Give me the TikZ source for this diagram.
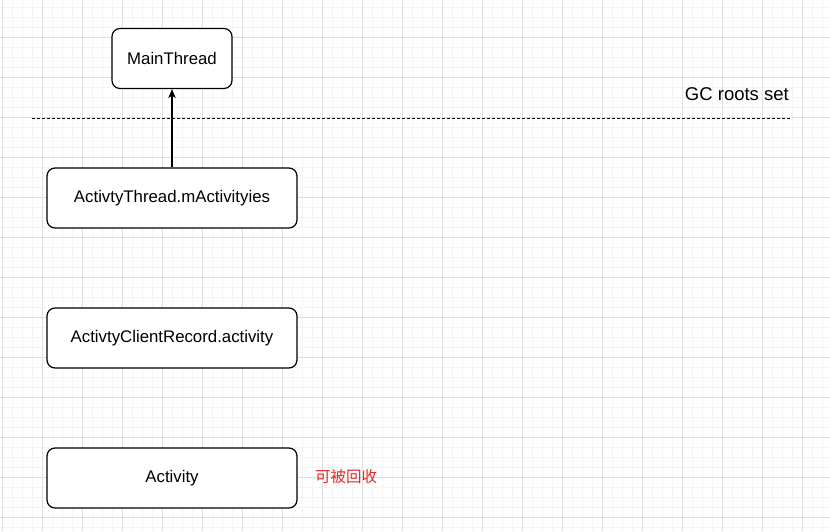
\documentclass[tikz,border=0pt]{standalone}
\usepackage{fontspec}
\setmainfont{Liberation Sans}
\newfontfamily\cjk{Noto Sans CJK SC}
\usetikzlibrary{arrows.meta}
\definecolor{gridminor}{RGB}{244,244,244}
\definecolor{gridmajor}{RGB}{222,222,222}
\definecolor{warnred}{RGB}{230,40,40}
\tikzset{
  box/.style={draw=black, line width=1.2pt, rounded corners=8pt, fill=white,
    minimum height=60pt, inner sep=0pt, font=\fontsize{16.8}{18}\selectfont},
  ref/.style={line width=1.1pt, -{Stealth[length=9pt,width=7.5pt,inset=2.5pt]}},
}
\begin{document}
\begin{tikzpicture}[x=1pt,y=-1pt]
\useasboundingbox (0,0) rectangle (830,531);
\fill[white] (0,0) rectangle (830,531);
% minor grid
\foreach \i in {0,...,83} {\draw[gridminor, line width=0.8pt] (2+10*\i,0) -- (2+10*\i,531);}
\foreach \j in {0,...,53} {\draw[gridminor, line width=0.8pt] (0,7+10*\j) -- (830,7+10*\j);}
% major grid
\foreach \i in {0,...,20} {\draw[gridmajor, line width=0.9pt] (2+40*\i,0) -- (2+40*\i,531);}
\foreach \j in {0,...,13} {\draw[gridmajor, line width=0.9pt] (0,-3+40*\j) -- (830,-3+40*\j);}

\node[box, minimum width=120pt] (main) at (172,58.5) {MainThread};
\node[box, minimum width=250pt] (thread) at (172,198) {ActivtyThread.mActivityies};
\node[box, minimum width=250pt] (record) at (172,338) {ActivtyClientRecord.activity};
\node[box, minimum width=250pt] (act) at (172,478) {Activity};

\coordinate (dl) at (32,118);
\coordinate (dr) at (792,118);
\draw[black, line width=1pt, dash pattern=on 3pt off 2pt] (dl) -- (dr);

\node[anchor=base east, inner sep=0pt, font=\fontsize{18.5}{20}\selectfont] (gc) at (789,100) {GC roots set};
\node[anchor=west, inner sep=0pt, text=warnred, font=\cjk\fontsize{15.5}{17}\selectfont] (free) at (315,477) {可被回收};

\draw[ref] (thread.north) -- (main.south);
\end{tikzpicture}
\end{document}
